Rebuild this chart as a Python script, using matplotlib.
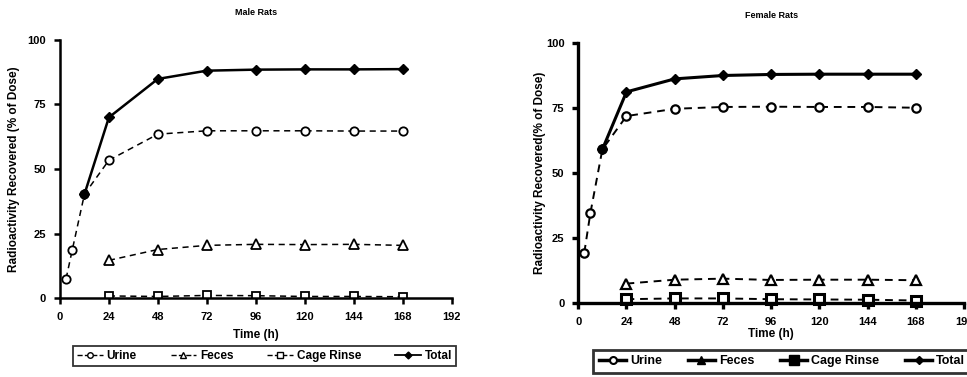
import numpy as np
import matplotlib
matplotlib.use("Agg")
import matplotlib.pyplot as plt
from matplotlib.lines import Line2D

plt.rcParams['font.family'] = ['Liberation Sans', 'DejaVu Sans']
plt.rcParams['font.weight'] = 'bold'

# time points (h)
t_early = [3, 6, 12, 24, 48, 72, 96, 120, 144, 168]
t_total = [12, 24, 48, 72, 96, 120, 144, 168]
t_late = [24, 48, 72, 96, 120, 144, 168]

# male rats (% of dose)
male_urine = [7.5, 18.5, 40.2, 53.4, 63.5, 64.8, 64.8, 64.8, 64.7, 64.7]
male_feces = [14.6, 18.8, 20.4, 20.8, 20.7, 20.8, 20.4]
male_rinse = [0.8, 0.6, 1.0, 0.9, 0.6, 0.6, 0.5]
male_total = [40.2, 70.0, 84.9, 88.1, 88.5, 88.6, 88.6, 88.7]

# female rats (% of dose)
female_urine = [19.4, 34.5, 59.1, 71.9, 74.7, 75.4, 75.5, 75.4, 75.4, 75.1]
female_feces = [7.5, 9.0, 9.4, 8.9, 9.0, 9.0, 8.8]
female_rinse = [1.5, 1.8, 1.8, 1.5, 1.4, 1.3, 1.0]
female_total = [59.1, 81.2, 86.2, 87.5, 87.9, 88.0, 88.0, 88.0]

xticks = [0, 24, 48, 72, 96, 120, 144, 168, 192]
yticks = [0, 25, 50, 75, 100]
labels = ['Urine', 'Feces', 'Cage Rinse', 'Total']

fig = plt.figure(figsize=(9.67, 3.77), dpi=100)
ax1 = fig.add_axes([0.062, 0.2095, 0.405, 0.6845])
ax2 = fig.add_axes([0.598, 0.196, 0.399, 0.69])


def style_axis(ax, title, ylabel, spw, lpad, xpad):
    ax.set_xlim(0, 192)
    ax.set_ylim(0, 100)
    ax.set_xticks(xticks)
    ax.set_yticks(yticks)
    for s in ['top', 'right']:
        ax.spines[s].set_visible(False)
    for s in ['left', 'bottom']:
        ax.spines[s].set_linewidth(spw)
    ax.tick_params(direction='out', length=4, width=spw, labelsize=8, pad=6)
    ax.set_title(title, fontsize=6.5, fontweight='bold', pad=18)
    ax.set_xlabel('Time (h)', fontsize=8.5, fontweight='bold', labelpad=xpad)
    ax.set_ylabel(ylabel, fontsize=8.5, fontweight='bold', labelpad=lpad)


# male
ax1.plot(t_early, male_urine, '--', color='black', lw=1.1, marker='o', ms=6,
         mfc='white', mec='black', mew=1.3, dashes=(4, 3))
ax1.plot(t_late, male_feces, '--', color='black', lw=1.1, marker='^', ms=7,
         mfc='white', mec='black', mew=1.3, dashes=(4, 3))
ax1.plot(t_late, male_rinse, '--', color='black', lw=1.1, marker='s', ms=6,
         mfc='white', mec='black', mew=1.3, dashes=(4, 3))
ax1.plot(t_total, male_total, '-', color='black', lw=1.8, marker='D', ms=5,
         mfc='black', mec='black', clip_on=False)
style_axis(ax1, 'Male Rats', 'Radioactivity Recovered (% of Dose)', 1.8, 5, 5)

h_m = [Line2D([], [], ls='--', color='black', lw=1, marker='o', ms=4, mfc='white', mec='black'),
       Line2D([], [], ls='--', color='black', lw=1, marker='^', ms=5, mfc='white', mec='black'),
       Line2D([], [], ls='--', color='black', lw=1, marker='s', ms=4, mfc='white', mec='black'),
       Line2D([], [], ls='-', color='black', lw=1.3, marker='D', ms=3.5, mfc='black')]
leg1 = fig.legend(h_m, labels, loc='lower left', bbox_to_anchor=(67 / 967, 5 / 377, 395 / 967, 25 / 377),
                  mode='expand', ncol=4, fontsize=8.5, frameon=True, fancybox=False,
                  handlelength=2.2, handletextpad=0.3, borderpad=0.35, columnspacing=1.0)
leg1.get_frame().set_edgecolor('black')
leg1.get_frame().set_linewidth(1.3)

# female
ax2.plot(t_early, female_urine, '--', color='black', lw=1.4, marker='o', ms=6,
         mfc='white', mec='black', mew=1.6, dashes=(4, 3))
ax2.plot(t_late, female_feces, '--', color='black', lw=1.4, marker='^', ms=7,
         mfc='white', mec='black', mew=1.6, dashes=(4, 3))
ax2.plot(t_late, female_rinse, '--', color='black', lw=1.4, marker='s', ms=7,
         mfc='white', mec='black', mew=2.2, dashes=(4, 3), clip_on=False)
ax2.plot(t_total, female_total, '-', color='black', lw=2.2, marker='D', ms=5,
         mfc='black', mec='black', clip_on=False)
style_axis(ax2, 'Female Rats', 'Radioactivity Recovered(% of Dose)', 2.4, 0, 1)

h_f = [Line2D([], [], ls='-', color='black', lw=2.5, marker='o', ms=5, mfc='white', mec='black', mew=1.5),
       Line2D([], [], ls='-', color='black', lw=2.5, marker='^', ms=6, mfc='black', mec='black'),
       Line2D([], [], ls='-', color='black', lw=2.5, marker='s', ms=7, mfc='black', mec='black'),
       Line2D([], [], ls='-', color='black', lw=2.5, marker='D', ms=4, mfc='black')]
leg2 = fig.legend(h_f, labels, loc='lower left', bbox_to_anchor=(587 / 967, -2 / 377, 390 / 967, 35 / 377),
                  mode='expand', ncol=4, fontsize=9, frameon=True, fancybox=False,
                  handlelength=2.2, handletextpad=0.3, borderpad=0.45, columnspacing=1.0)
leg2.get_frame().set_edgecolor('black')
leg2.get_frame().set_linewidth(2.0)

fig.savefig('out.png', dpi=100)
